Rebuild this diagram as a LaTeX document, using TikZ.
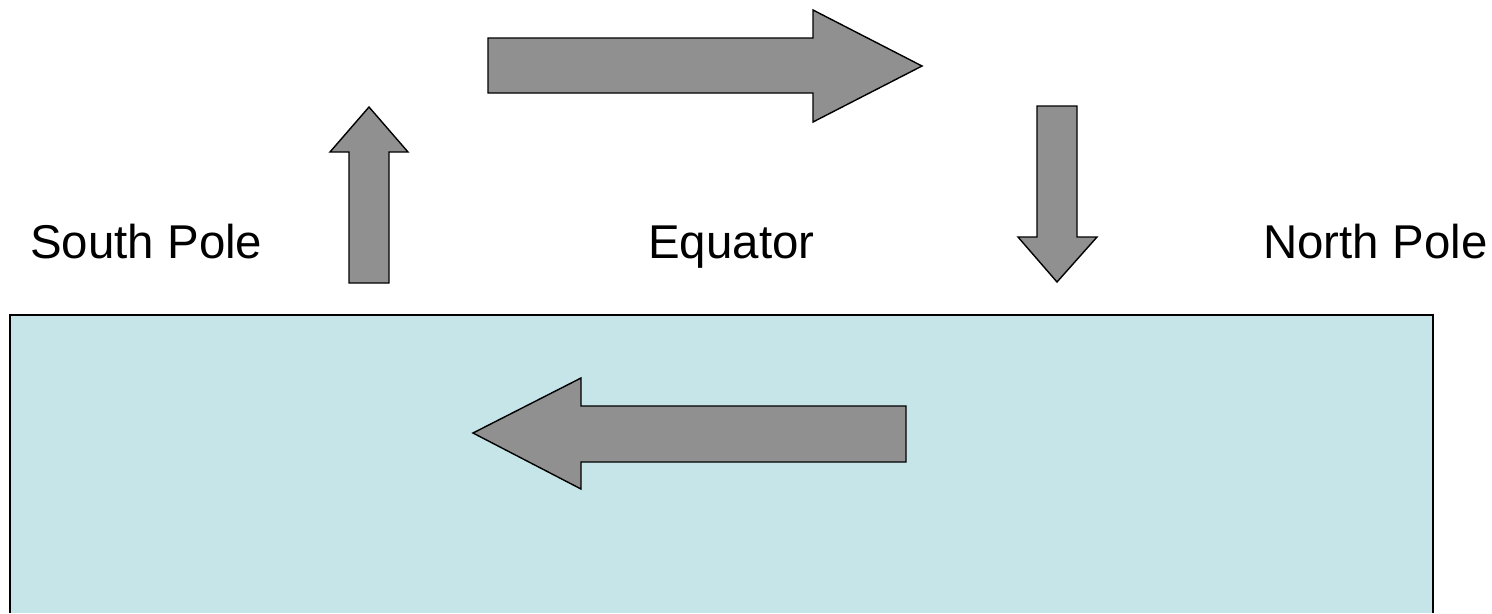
\documentclass[tikz,border=0pt]{standalone}
\usepackage{fontspec}
\setmainfont{Liberation Sans}
\usetikzlibrary{positioning}
\definecolor{cgray}{HTML}{909090}
\definecolor{csea}{HTML}{C5E5E8}

\begin{document}
\begin{tikzpicture}[x=0.02cm, y=-0.02cm,
    blockarrow/.style={draw=black, line width=0.8pt, fill=cgray, line join=miter},
    label/.style={anchor=base west, inner sep=0pt, font=\fontsize{27}{32}\selectfont}]
  \useasboundingbox (0,0) rectangle (1492,613);
  % the ocean
  \draw[fill=csea, line width=0.8pt] (10,613) -- (10,315) -- (1433,315) -- (1433,613);
  % rising air at the south pole
  \draw[blockarrow] (349,283) -- (349,152) -- (330,152) -- (369,107) -- (408,152) -- (389,152) -- (389,283) -- cycle;
  % flow aloft towards the north
  \draw[blockarrow] (488,38) -- (813,38) -- (813,10) -- (922,66) -- (813,122) -- (813,93) -- (488,93) -- cycle;
  % sinking air at the north pole
  \draw[blockarrow] (1037,106) -- (1077,106) -- (1077,237) -- (1097,237) -- (1057,282) -- (1018,237) -- (1037,237) -- cycle;
  % return flow in the ocean
  \draw[blockarrow] (906,406) -- (581,406) -- (581,378) -- (473,433) -- (581,489) -- (581,462) -- (906,462) -- cycle;
  % labels
  \node[label] (south) at (30,258) {South Pole};
  \node[label] (equator) at (648,258) {Equator};
  \node[label] (north) at (1263,258) {North Pole};
\end{tikzpicture}
\end{document}
